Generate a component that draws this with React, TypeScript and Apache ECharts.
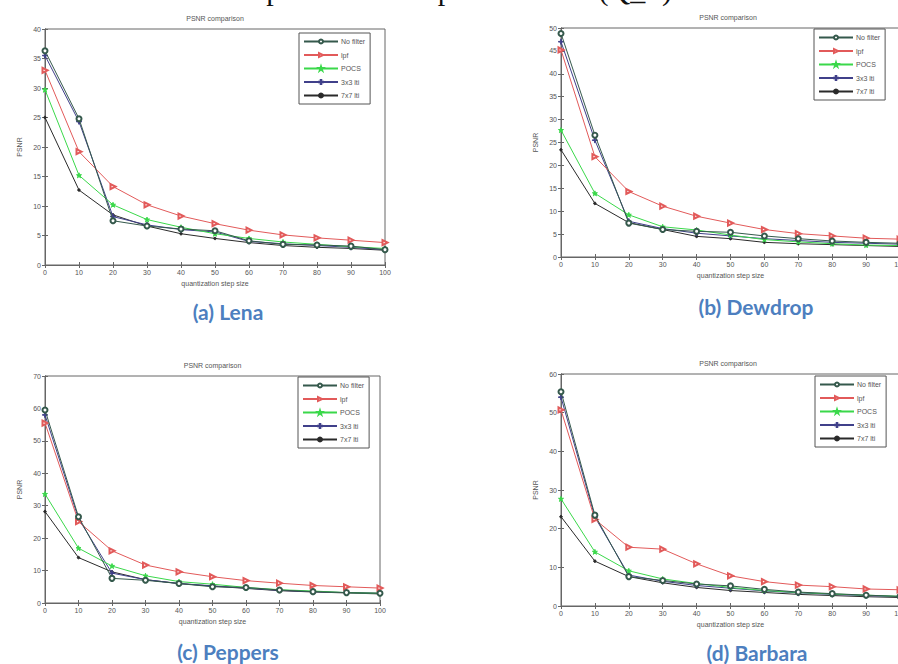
import React, { useEffect, useRef } from "react";
import * as echarts from "echarts";

const STEPS = [0, 10, 20, 30, 40, 50, 60, 70, 80, 90, 100];
const SERIES_NAMES = ["No filter", "lpf", "POCS", "3x3 lti", "7x7 lti"];
const PANEL_CAPTIONS = ["(a) Lena", "(b) Dewdrop", "(c) Peppers", "(d) Barbara"];
const Y_MAX = [40, 50, 70, 60];
const Y_INTERVAL = [5, 5, 10, 10];

const LENA_NOFILTER = [36.3, 24.8, 7.5, 6.6, 6.1, 5.8, 4.1, 3.5, 3.4, 3.2, 2.6];
const LENA_LPF = [33.0, 19.2, 13.3, 10.2, 8.3, 7.0, 5.9, 5.1, 4.6, 4.2, 3.8];
const LENA_POCS = [29.7, 15.2, 10.2, 7.7, 6.4, 5.3, 4.5, 3.9, 3.5, 3.1, 2.8];
const LENA_LTI3 = [35.5, 24.3, 8.2, 6.8, 6.0, 5.6, 4.0, 3.6, 3.3, 3.0, 2.6];
const LENA_LTI7 = [25.0, 12.7, 8.5, 6.6, 5.3, 4.5, 3.8, 3.3, 3.0, 2.8, 2.5];

const DEWDROP_NOFILTER = [48.8, 26.6, 7.4, 6.0, 5.6, 5.4, 4.6, 4.0, 3.5, 3.2, 3.0];
const DEWDROP_LPF = [45.2, 21.9, 14.3, 11.1, 8.9, 7.4, 6.0, 5.1, 4.6, 4.1, 3.9];
const DEWDROP_POCS = [27.7, 13.9, 9.2, 6.6, 5.9, 4.8, 3.8, 3.3, 2.9, 2.6, 2.5];
const DEWDROP_LTI3 = [47.0, 25.5, 7.8, 6.2, 5.2, 4.6, 4.0, 3.6, 3.2, 3.0, 2.8];
const DEWDROP_LTI7 = [23.4, 11.7, 7.5, 6.0, 4.5, 4.0, 3.2, 2.9, 2.7, 2.5, 2.3];

const PEPPERS_NOFILTER = [59.5, 26.6, 7.6, 7.0, 6.0, 5.0, 4.8, 4.0, 3.5, 3.2, 3.0];
const PEPPERS_LPF = [55.5, 25.1, 16.1, 11.7, 9.6, 8.1, 6.9, 6.1, 5.4, 5.0, 4.6];
const PEPPERS_POCS = [33.6, 16.9, 11.4, 8.4, 6.6, 5.8, 4.8, 4.1, 3.7, 3.2, 3.0];
const PEPPERS_LTI3 = [58.0, 26.0, 9.2, 7.2, 6.0, 5.3, 4.6, 3.9, 3.5, 3.2, 3.0];
const PEPPERS_LTI7 = [28.2, 14.0, 9.6, 7.2, 6.0, 5.2, 4.5, 3.8, 3.4, 3.1, 2.8];

const BARBARA_NOFILTER = [55.4, 23.5, 7.6, 6.6, 5.7, 5.2, 4.3, 3.6, 3.2, 2.8, 2.5];
const BARBARA_LPF = [50.7, 22.4, 15.2, 14.7, 10.9, 7.8, 6.3, 5.4, 5.0, 4.4, 4.2];
const BARBARA_POCS = [27.7, 14.0, 9.1, 7.0, 5.8, 4.8, 4.0, 3.5, 3.1, 2.8, 2.5];
const BARBARA_LTI3 = [54.0, 23.0, 8.0, 6.4, 5.3, 4.6, 3.9, 3.4, 3.0, 2.7, 2.4];
const BARBARA_LTI7 = [23.1, 11.6, 7.6, 6.0, 4.8, 4.0, 3.5, 3.0, 2.7, 2.4, 2.2];

const PANELS = [
  [LENA_NOFILTER, LENA_LPF, LENA_POCS, LENA_LTI3, LENA_LTI7],
  [DEWDROP_NOFILTER, DEWDROP_LPF, DEWDROP_POCS, DEWDROP_LTI3, DEWDROP_LTI7],
  [PEPPERS_NOFILTER, PEPPERS_LPF, PEPPERS_POCS, PEPPERS_LTI3, PEPPERS_LTI7],
  [BARBARA_NOFILTER, BARBARA_LPF, BARBARA_POCS, BARBARA_LTI3, BARBARA_LTI7],
];

// layout (pixels)
const CANVAS_W = 912;
const GRIDS = [
  { left: 45, top: 29, width: 340, height: 236 },
  { left: 561, top: 28, width: 339, height: 229 },
  { left: 45, top: 376, width: 335, height: 227 },
  { left: 561, top: 374, width: 339, height: 232 },
];
const LEGEND_POS = [
  { left: 299, top: 33 },
  { left: 814, top: 29 },
  { left: 298, top: 377 },
  { left: 815, top: 376 },
];
const CAPTION_POS = [
  { x: 228, y: 311 },
  { x: 756, y: 306 },
  { x: 228, y: 651 },
  { x: 757, y: 652 },
];

const COLORS = ["#35594c", "#e25a5a", "#3ad84a", "#40408a", "#2a2a2a"];
const STAR =
  "path://M5,0L6.2,3.8L10,3.8L6.9,6.1L8.1,10L5,7.6L1.9,10L3.1,6.1L0,3.8L3.8,3.8Z";
const PLUS = "path://M4.3,0H5.7V4.3H10V5.7H5.7V10H4.3V5.7H0V4.3H4.3Z";
const SYMBOLS = ["emptyCircle", "emptyTriangle", STAR, PLUS, "circle"];
const SYMBOL_SIZES = [5, 5, 5, 5, 2.5];
const SYMBOL_ROTATE = [0, -90, 0, 0, 0];

const FONT = "Liberation Sans";
const TXT = "#555";

export default function App() {
  const ref = useRef<HTMLDivElement>(null);
  useEffect(() => {
    document.body.style.margin = "0";
    if (!ref.current) return;
    const chart = echarts.init(ref.current, undefined, { renderer: "svg" });

    const grid: any[] = [];
    const xAxis: any[] = [];
    const yAxis: any[] = [];
    const series: any[] = [];
    const legend: any[] = [];
    const graphic: any[] = [];

    GRIDS.forEach((g, i) => {
      grid.push({
        ...g,
        show: true,
        borderColor: "#666",
        borderWidth: 1,
        backgroundColor: "#fff",
      });
      const axisCommon = {
        type: "value",
        gridIndex: i,
        splitLine: { show: false },
        axisLine: { show: true, lineStyle: { color: "#666", width: 1 } },
        axisTick: { show: true, inside: true, length: 3, lineStyle: { color: "#666" } },
      };
      xAxis.push({
        ...axisCommon,
        position: "bottom",
        min: 0,
        max: 100,
        interval: 10,
        axisLabel: { fontSize: 7, color: TXT, fontFamily: FONT, margin: 4 },
        name: "quantization step size",
        nameLocation: "middle",
        nameGap: 15,
        nameTextStyle: { fontSize: 7, color: TXT, fontFamily: FONT },
      });
      xAxis.push({
        ...axisCommon,
        position: "top",
        min: 0,
        max: 100,
        interval: 10,
        axisLabel: { show: false },
      });
      yAxis.push({
        ...axisCommon,
        position: "left",
        min: 0,
        max: Y_MAX[i],
        interval: Y_INTERVAL[i],
        axisLabel: { fontSize: 7, color: TXT, fontFamily: FONT, margin: 4 },
        name: "PSNR",
        nameLocation: "middle",
        nameGap: 22,
        nameTextStyle: { fontSize: 7, color: TXT, fontFamily: FONT },
      });
      yAxis.push({
        ...axisCommon,
        position: "right",
        min: 0,
        max: Y_MAX[i],
        interval: Y_INTERVAL[i],
        axisLabel: { show: false },
      });

      PANELS[i].forEach((vals, k) => {
        series.push({
          type: "line",
          name: SERIES_NAMES[k],
          xAxisIndex: 2 * i,
          yAxisIndex: 2 * i,
          data: STEPS.map((s, j) => [s, vals[j]]),
          symbol: SYMBOLS[k],
          symbolSize: SYMBOL_SIZES[k],
          symbolRotate: SYMBOL_ROTATE[k],
          showAllSymbol: true,
          lineStyle: { color: COLORS[k], width: 1 },
          itemStyle: { color: COLORS[k], borderColor: COLORS[k], borderWidth: 1 },
          z: 10 - k,
        });
      });

      legend.push({
        ...LEGEND_POS[i],
        orient: "vertical",
        data: SERIES_NAMES,
        itemWidth: 34,
        itemHeight: 5,
        itemGap: 4.5,
        padding: [4, 5, 4, 4],
        borderColor: "#555",
        borderWidth: 1,
        backgroundColor: "#fff",
        selectedMode: false,
        textStyle: {
          fontSize: 7,
          color: TXT,
          fontFamily: FONT,
          lineHeight: 9,
          padding: [0, 0, 0, -2],
        },
      });

      const cx = GRIDS[i].left + (i % 2 === 0 ? GRIDS[i].width / 2 : 167);
      graphic.push({
        type: "text",
        x: cx,
        y: GRIDS[i].top - 11,
        style: {
          text: "PSNR comparison",
          fontSize: 7,
          fontFamily: FONT,
          fill: TXT,
          align: "center",
          verticalAlign: "middle",
        },
      });
      graphic.push({
        type: "text",
        x: CAPTION_POS[i].x,
        y: CAPTION_POS[i].y,
        style: {
          text: PANEL_CAPTIONS[i],
          fontSize: 21,
          fontWeight: "bold",
          fontFamily: "Lato",
          fill: "#4d7fbf",
          align: "center",
          verticalAlign: "middle",
        },
      });
    });

    // page caption above the figure, cut off by the top edge like in the source
    graphic.push({
      type: "text",
      x: 132,
      y: -26,
      style: {
        text: "PSNR comparison for step size values (Q_P)",
        fontSize: 30,
        lineHeight: 30,
        fontFamily: "Liberation Serif",
        fill: "#111",
        align: "left",
        verticalAlign: "top",
      },
    });

    chart.setOption({
      animation: false,
      backgroundColor: "#fff",
      grid,
      xAxis,
      yAxis,
      series,
      legend,
      graphic,
    });
    return () => chart.dispose();
  }, []);
  return (
    <div style={{ width: 898, height: 664, overflow: "hidden", position: "relative" }}>
      <div ref={ref} style={{ width: CANVAS_W, height: 664 }} />
    </div>
  );
}
